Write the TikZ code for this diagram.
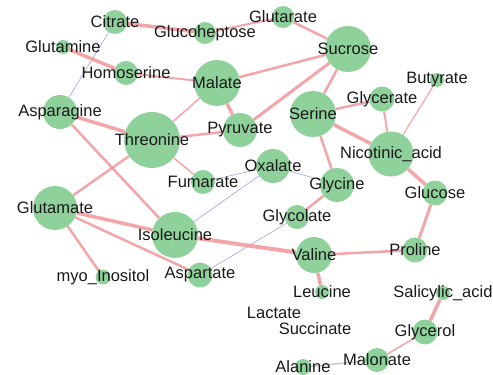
\documentclass[tikz,border=0pt]{standalone}
\usepackage{fontspec}
\setmainfont{Liberation Sans}
\usepackage{tikz}
\usetikzlibrary{shapes,arrows}
\pgfdeclarelayer{background}
\pgfsetlayers{background,main}

\definecolor{metgreen}{RGB}{143,209,155}
\definecolor{pinkedge}{RGB}{240,150,155}
\definecolor{blueedge}{RGB}{160,160,225}
\definecolor{grayedge}{RGB}{190,200,210}

\begin{document}
\begin{tikzpicture}[x=1pt,y=-1pt,
    met/.style={circle,fill=metgreen,draw=none,inner sep=0pt},
    every label/.style={font=\fontsize{16.5}{19}\selectfont,text=black!90,inner sep=0pt},
    txt/.style={font=\fontsize{16.5}{19}\selectfont,text=black!90,inner sep=0pt},
    pk/.style={draw=pinkedge,draw opacity=0.85,line width=#1},
    bl/.style={draw=blueedge,line width=0.6pt},
    gr/.style={draw=grayedge,line width=1.4pt}]
        \useasboundingbox (0,0) rectangle (493,375);

        % 上部节点
        \node[met,minimum size=24pt,label={center:Citrate}] (cit) at (115,22) {};
        \node[met,minimum size=22pt,label={center:Glucoheptose}] (glh) at (205,33) {};
        \node[met,minimum size=22pt,label={center:Glutarate}] (glr) at (283,17) {};
        \node[met,minimum size=46pt,label={center:Sucrose}] (suc) at (348,49) {};
        \node[met,minimum size=14pt,label={center:Glutamine}] (gln) at (63,47) {};
        \node[met,minimum size=24pt,label={center:Homoserine}] (hom) at (126,73) {};
        \node[met,minimum size=46pt,label={center:Malate}] (mal) at (217,83) {};
        \node[met,minimum size=14pt,label={center:Butyrate}] (but) at (437,80) {};
        \node[met,minimum size=25pt,label={center:Glycerate}] (gla) at (382,99) {};
        \node[met,minimum size=46pt,label={center:Serine}] (ser) at (313,114) {};

        % 中部节点
        \node[met,minimum size=34pt,label={center:Asparagine}] (asn) at (60,112) {};
        \node[met,minimum size=56pt,label={center:Threonine}] (thr) at (152,140) {};
        \node[met,minimum size=34pt,label={center:Pyruvate}] (pyr) at (240,130) {};
        \node[met,minimum size=45pt,label={center:Nicotinic\_acid}] (nic) at (391,154) {};
        \node[met,minimum size=34pt,label={center:Oxalate}] (oxa) at (273,166) {};
        \node[met,minimum size=24pt,label={center:Fumarate}] (fum) at (203,182) {};
        \node[met,minimum size=34pt,label={center:Glycine}] (gly) at (337,185) {};
        \node[met,minimum size=25pt,label={center:Glucose}] (glc) at (435,193) {};
        \node[met,minimum size=44pt,label={center:Glutamate}] (glu) at (55,208) {};
        \node[met,minimum size=46pt,label={center:Isoleucine}] (ile) at (175,235) {};
        \node[met,minimum size=24pt,label={center:Glycolate}] (glo) at (297,217) {};
        \node[met,minimum size=36pt,label={center:Valine}] (val) at (314,255) {};
        \node[met,minimum size=25pt,label={center:Proline}] (pro) at (415,250) {};

        % 下部节点
        \node[met,minimum size=15pt,label={center:myo\_Inositol}] (ino) at (103,277) {};
        \node[met,minimum size=25pt,label={center:Aspartate}] (asp) at (200,275) {};
        \node[met,minimum size=14pt,label={center:Leucine}] (leu) at (322,292) {};
        \node[met,minimum size=14pt,label={center:Salicylic\_acid}] (sal) at (443,293) {};
        \node[txt] (lac) at (274,313) {Lactate};
        \node[txt] (sca) at (315,329) {Succinate};
        \node[met,minimum size=25pt,label={center:Glycerol}] (gol) at (425,332) {};
        \node[met,minimum size=24pt,label={center:Malonate}] (mln) at (377,360) {};
        \node[met,minimum size=16pt,label={center:Alanine}] (ala) at (303,367) {};

        % 连接线
        \begin{pgfonlayer}{background}
        \draw[pk=3.5pt] (cit) -- (glh);
        \draw[pk=2pt] (glh) -- (glr);
        \draw[pk=2.5pt] (glr) -- (suc);
        \draw[bl] (cit) -- (asn);
        \draw[pk=3.5pt] (gln) -- (hom);
        \draw[pk=2pt] (hom) -- (mal);
        \draw[pk=2.5pt] (mal) -- (suc);
        \draw[pk=3.5pt] (mal) -- (pyr);
        \draw[pk=1.5pt] (mal) -- (thr);
        \draw[pk=3pt] (suc) -- (pyr);
        \draw[pk=2.5pt] (suc) -- (ser);
        \draw[pk=2.5pt] (ser) -- (gla);
        \draw[pk=3.5pt] (ser) -- (nic);
        \draw[pk=2.5pt] (ser) -- (gly);
        \draw[pk=2pt] (gla) -- (nic);
        \draw[pk=1.2pt] (but) -- (nic);
        \draw[pk=3.5pt] (nic) -- (glc);
        \draw[pk=3pt] (glc) -- (pro);
        \draw[pk=2.5pt] (pro) -- (val);
        \draw[pk=3.5pt] (asn) -- (thr);
        \draw[pk=2.5pt] (asn) -- (ile);
        \draw[pk=2.5pt] (thr) -- (pyr);
        \draw[pk=1.5pt] (thr) -- (fum);
        \draw[pk=2.5pt] (thr) -- (glu);
        \draw[bl] (fum) -- (oxa);
        \draw[bl] (oxa) -- (ile);
        \draw[bl] (oxa) -- (gly);
        \draw[pk=2.5pt] (gly) -- (glo);
        \draw[bl] (glo) -- (asp);
        \draw[pk=4pt] (ile) -- (val);
        \draw[pk=3.5pt] (glu) -- (ile);
        \draw[pk=2.5pt] (glu) -- (asp);
        \draw[pk=2.5pt] (glu) -- (ino);
        \draw[pk=3.5pt] (val) -- (leu);
        \draw[pk=3.5pt] (sal) -- (gol);
        \draw[pk=1.5pt] (gol) -- (mln);
        \draw[gr] (mln) -- (ala);
        \end{pgfonlayer}
    \end{tikzpicture}
\end{document}
